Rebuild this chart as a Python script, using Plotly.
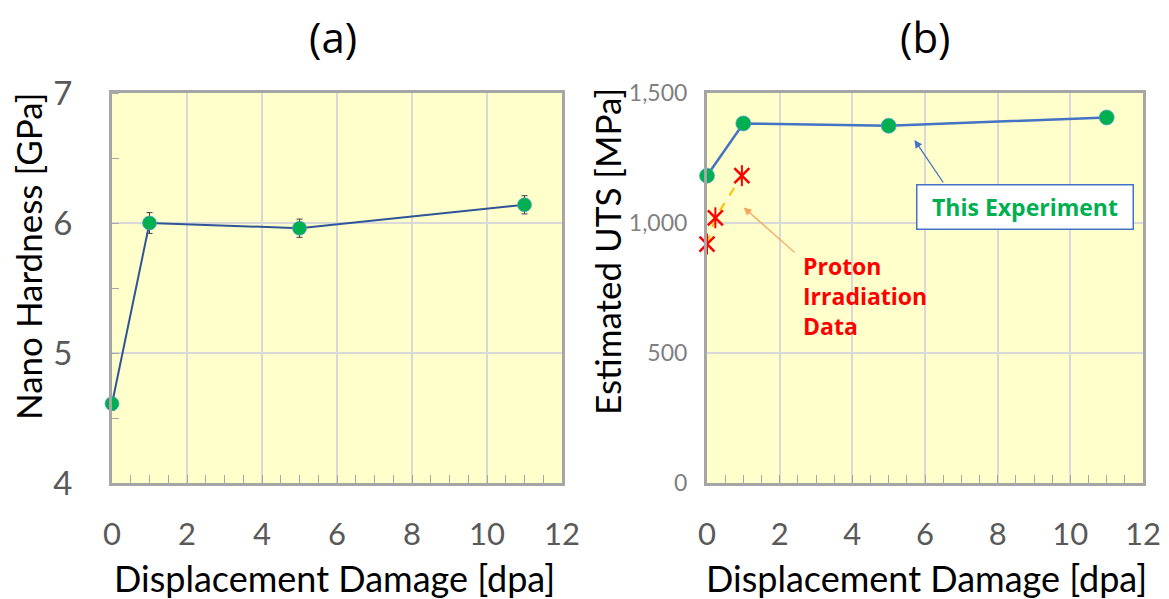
import plotly.graph_objects as go

# ---- data ----
dpa = [0, 1, 5, 11]
hardness = [4.61, 6.00, 5.96, 6.14]
hardness_err = [0.05, 0.08, 0.07, 0.07]
uts = [1182, 1383, 1374, 1406]
proton_dpa = [0, 0.23, 0.96]
proton_uts = [919, 1020, 1182]
x_ticks = [0, 2, 4, 6, 8, 10, 12]
h_ticks = [4, 5, 6, 7]
uts_ticks = [0, 500, 1000, 1500]

W, H = 1169, 599
FONT = "Lato"
BOLD_FONT = "Open Sans"
GREEN = "#00B050"
BG = "#FFFFCC"
GRID = "#D9D9D9"
BORDER = "#A6A6A6"

fig = go.Figure()

# (a) nano hardness
fig.add_trace(go.Scatter(
    x=dpa, y=hardness, mode="lines+markers", xaxis="x", yaxis="y",
    line=dict(color="#2F5597", width=2),
    marker=dict(color=GREEN, size=14, line=dict(color="rgba(91,155,213,0.7)", width=1)),
    error_y=dict(type="data", array=hardness_err, color="#404040", thickness=1, width=3),
    cliponaxis=False, showlegend=False))

# (b) estimated UTS
fig.add_trace(go.Scatter(
    x=proton_dpa, y=proton_uts, mode="lines", xaxis="x2", yaxis="y2",
    line=dict(color="#FFC000", width=2, dash="dash"),
    cliponaxis=False, showlegend=False))
fig.add_trace(go.Scatter(
    x=proton_dpa, y=proton_uts, mode="markers", xaxis="x2", yaxis="y2",
    marker=dict(symbol="x-thin-open", size=15, color="#FF0000", line=dict(color="#FF0000", width=2.5)),
    cliponaxis=False, showlegend=False))
fig.add_trace(go.Scatter(
    x=proton_dpa, y=proton_uts, mode="markers", xaxis="x2", yaxis="y2",
    marker=dict(symbol="line-ns-open", size=15, color="#FF0000", line=dict(color="#FF0000", width=2)),
    cliponaxis=False, showlegend=False))
fig.add_trace(go.Scatter(
    x=dpa, y=uts, mode="lines+markers", xaxis="x2", yaxis="y2",
    line=dict(color="#4472C4", width=2.5),
    marker=dict(color=GREEN, size=15, line=dict(color="rgba(91,155,213,0.7)", width=1)),
    cliponaxis=False, showlegend=False))

ydom = [1 - 483 / H, 1 - 93 / H]

common_x = dict(range=[0, 12], tickvals=x_ticks, showgrid=True, gridcolor=GRID, gridwidth=1.5,
                showline=True, mirror=True, linecolor=BORDER, linewidth=3,
                ticks="inside", ticklen=8, tickcolor=BORDER, tickwidth=1,
                minor=dict(dtick=0.5, ticks="inside", ticklen=8, tickcolor=BORDER, tickwidth=1, showgrid=False),
                tickfont=dict(family=FONT, size=31, color="#595959"),
                ticklabelstandoff=22, zeroline=False, fixedrange=True, automargin=False)

fig.update_layout(
    width=W, height=H, margin=dict(l=0, r=0, t=0, b=0, autoexpand=False),
    paper_bgcolor="white", plot_bgcolor=BG,
    xaxis=dict(domain=[112 / W, 562 / W], anchor="y", **common_x),
    yaxis=dict(domain=ydom, anchor="x", range=[4, 7], tickvals=h_ticks,
               showgrid=True, gridcolor=GRID, gridwidth=1.5,
               showline=True, mirror=True, linecolor=BORDER, linewidth=3,
               ticks="", minor=dict(dtick=0.5, ticks="inside", ticklen=7, tickcolor=BORDER, tickwidth=1),
               tickfont=dict(family=FONT, size=33, color="#595959"),
               ticklabelstandoff=30, zeroline=False, fixedrange=True, automargin=False),
    xaxis2=dict(domain=[707 / W, 1143 / W], anchor="y2", **common_x),
    yaxis2=dict(domain=ydom, anchor="x2", range=[0, 1500], tickvals=uts_ticks, tickformat=",",
                showgrid=True, gridcolor=GRID, gridwidth=1.5,
                showline=True, mirror=True, linecolor=BORDER, linewidth=3,
                ticks="", tickfont=dict(family=FONT, size=23, color="#7F7F7F"),
                ticklabelstandoff=12, zeroline=False, fixedrange=True, automargin=False),
)

ann = []
# panel titles
ann.append(dict(text="(a)", x=333 / W, y=1 - 37 / H, xref="paper", yref="paper", showarrow=False,
                font=dict(family=BOLD_FONT, size=42, color="black"), xanchor="center", yanchor="middle"))
ann.append(dict(text="(b)", x=925 / W, y=1 - 37 / H, xref="paper", yref="paper", showarrow=False,
                font=dict(family=BOLD_FONT, size=42, color="black"), xanchor="center", yanchor="middle"))
# axis titles
ann.append(dict(text="Nano Hardness [GPa]", x=28 / W, y=1 - 257 / H, xref="paper", yref="paper",
                showarrow=False, textangle=-90, font=dict(family=FONT, size=35, color="black"),
                xanchor="center", yanchor="middle"))
ann.append(dict(text="Estimated UTS [MPa]", x=607 / W, y=1 - 252 / H, xref="paper", yref="paper",
                showarrow=False, textangle=-90, font=dict(family=FONT, size=35, color="black"),
                xanchor="center", yanchor="middle"))
ann.append(dict(text="Displacement Damage [dpa]", x=334 / W, y=1 - 578 / H, xref="paper", yref="paper",
                showarrow=False, font=dict(family=FONT, size=36, color="black"),
                xanchor="center", yanchor="middle"))
ann.append(dict(text="Displacement Damage [dpa]", x=926 / W, y=1 - 578 / H, xref="paper", yref="paper",
                showarrow=False, font=dict(family=FONT, size=36, color="black"),
                xanchor="center", yanchor="middle"))
# callouts in panel (b)
ann.append(dict(text="<b>This Experiment</b>", x=8.74, y=1060, xref="x2", yref="y2", showarrow=False,
                font=dict(family=BOLD_FONT, size=23, color=GREEN), bgcolor="white",
                bordercolor="#4472C4", borderwidth=1.5, borderpad=1, width=213, height=41,
                xanchor="center", yanchor="middle"))
ann.append(dict(text="", x=5.71, y=1319, ax=6.53, ay=1150, xref="x2", yref="y2", axref="x2", ayref="y2",
                showarrow=True, arrowhead=2, arrowsize=1.2, arrowwidth=1.3, arrowcolor="#4472C4"))
ann.append(dict(text="<b>Proton<br>Irradiation<br>Data</b>", x=2.6, y=718, xref="x2", yref="y2",
                showarrow=False, align="left", xanchor="left", yanchor="middle",
                font=dict(family=BOLD_FONT, size=23, color="#FF0000")))
ann.append(dict(text="", x=1.01, y=1060, ax=2.46, ay=881, xref="x2", yref="y2", axref="x2", ayref="y2",
                showarrow=True, arrowhead=2, arrowsize=1.2, arrowwidth=1.3, arrowcolor="#F5A55A"))
fig.update_layout(annotations=ann)

fig.write_html("out.html")
